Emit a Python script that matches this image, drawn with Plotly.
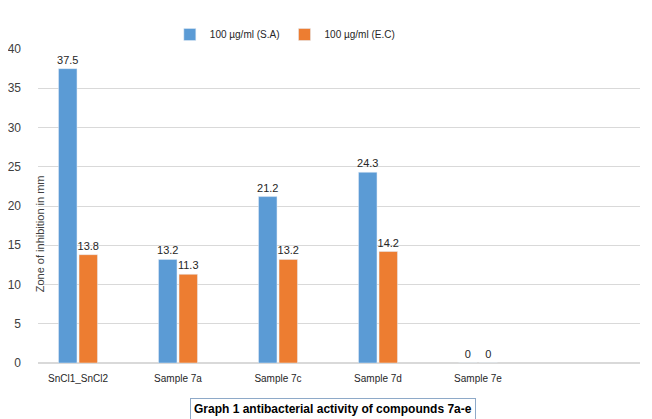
import plotly.graph_objects as go

categories = ["SnCl1_SnCl2", "Sample 7a", "Sample 7c", "Sample 7d", "Sample 7e"]
sa_values = [37.5, 13.2, 21.2, 24.3, 0]
ec_values = [13.8, 11.3, 13.2, 14.2, 0]
series_names = ["100 µg/ml (S.A)", "100 µg/ml (E.C)"]
y_ticks = [0, 5, 10, 15, 20, 25, 30, 35, 40]

FONT = "Liberation Sans, Arial, sans-serif"

fig = go.Figure()
fig.add_trace(go.Bar(
    x=categories, y=sa_values, name=series_names[0],
    marker_color="#5B9BD5",
    text=[f"{v:g}" for v in sa_values], textposition="outside",
    textfont=dict(family=FONT, size=11, color="#262626"),
    constraintext="none", cliponaxis=False,
))
fig.add_trace(go.Bar(
    x=categories, y=ec_values, name=series_names[1],
    marker_color="#ED7D31",
    text=[f"{v:g}" for v in ec_values], textposition="outside",
    textfont=dict(family=FONT, size=11, color="#262626"),
    constraintext="none", cliponaxis=False,
))

fig.update_layout(
    width=652, height=419,
    margin=dict(l=30, r=20, t=33, b=64),
    paper_bgcolor="white", plot_bgcolor="white",
    barmode="group", bargap=0.59, bargroupgap=0.1,
    font=dict(family=FONT, size=11, color="#404040"),
    legend=dict(orientation="h", x=0.41, xanchor="center", y=1.0, yanchor="bottom",
                font=dict(family=FONT, size=10, color="#262626"),
                itemwidth=30, traceorder="normal"),
    xaxis=dict(range=[-0.4, 5.62], showgrid=False, showline=False, zeroline=False,
               automargin=False, ticklabelstandoff=8,
               ticks="", tickfont=dict(family=FONT, size=10, color="#262626")),
    yaxis=dict(range=[0, 40], tickvals=y_ticks, showgrid=True, gridcolor="#D9D9D9",
               gridwidth=1, zeroline=True, zerolinecolor="#D9D9D9", showline=False,
               automargin=False,
               ticks="", ticklabelstandoff=16,
               tickfont=dict(family=FONT, size=12, color="#404040")),
    showlegend=True,
)

fig.add_annotation(
    text="Zone of inhibition in mm", textangle=-90,
    xref="paper", yref="paper", x=0.0, y=0.41, xanchor="center", yanchor="middle",
    xshift=2, showarrow=False,
    font=dict(family=FONT, size=11, color="#404040"),
)
fig.add_annotation(
    text="<b>Graph 1 antibacterial activity of compounds 7a-e</b>",
    xref="paper", yref="paper", x=0.49, y=0, yshift=-35, xanchor="center", yanchor="top",
    showarrow=False, bordercolor="#8EA9C8", borderwidth=1, borderpad=3, bgcolor="white",
    font=dict(family=FONT, size=12, color="#000000"),
)

fig.write_html("out.html")
